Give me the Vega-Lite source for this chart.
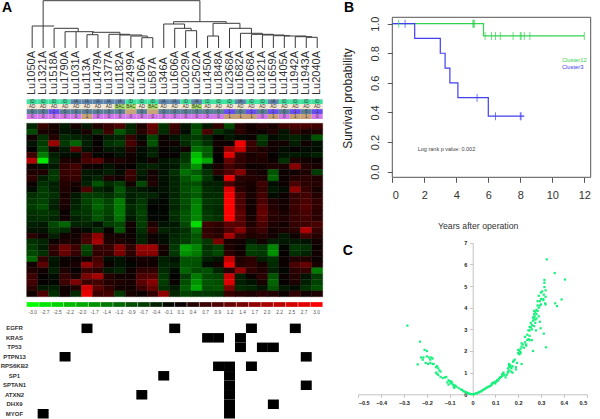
{"$schema":"https://vega.github.io/schema/vega-lite/v6.json","padding":0,"width":600,"height":419,"autosize":{"type":"none"},
"config":{"view":{"stroke":null},"font":"Liberation Sans"},
"resolve":{"scale":{"x":"independent","y":"independent","color":"independent","stroke":"independent"},"axis":{"x":"independent","y":"independent"}},
"datasets":{
"heat":[
{"c":1,"r":1,"v":-0.6},{"c":2,"r":1,"v":0.9},{"c":3,"r":1,"v":0.4},{"c":4,"r":1,"v":-0.4},{"c":5,"r":1,"v":0.4},{"c":6,"r":1,"v":-0.4},{"c":7,"r":1,"v":0.5},{"c":8,"r":1,"v":0.9},{"c":9,"r":1,"v":1.2},{"c":10,"r":1,"v":-0.6},{"c":11,"r":1,"v":0.5},{"c":12,"r":1,"v":1.6},{"c":13,"r":1,"v":-0.8},{"c":14,"r":1,"v":1},{"c":15,"r":1,"v":-0.3},{"c":16,"r":1,"v":-1.2},{"c":17,"r":1,"v":-0.4},{"c":18,"r":1,"v":0.8},{"c":19,"r":1,"v":-1.2},{"c":20,"r":1,"v":0.6},{"c":21,"r":1,"v":0.3},{"c":22,"r":1,"v":0.6},{"c":23,"r":1,"v":0.4},{"c":24,"r":1,"v":1},{"c":25,"r":1,"v":1.2},{"c":26,"r":1,"v":1.2},{"c":27,"r":1,"v":1},
{"c":1,"r":2,"v":-1.2},{"c":2,"r":2,"v":0.4},{"c":3,"r":2,"v":0.3},{"c":4,"r":2,"v":-0.3},{"c":5,"r":2,"v":-0.2},{"c":6,"r":2,"v":0.4},{"c":7,"r":2,"v":-0.8},{"c":8,"r":2,"v":1},{"c":9,"r":2,"v":-1.4},{"c":10,"r":2,"v":-0.7},{"c":11,"r":2,"v":0.6},{"c":12,"r":2,"v":1.4},{"c":13,"r":2,"v":-0.7},{"c":14,"r":2,"v":0.8},{"c":15,"r":2,"v":-0.2},{"c":16,"r":2,"v":-1.4},{"c":17,"r":2,"v":1.2},{"c":18,"r":2,"v":-0.8},{"c":19,"r":2,"v":-0.4},{"c":20,"r":2,"v":0.7},{"c":21,"r":2,"v":0.3},{"c":22,"r":2,"v":0.2},{"c":23,"r":2,"v":0.5},{"c":24,"r":2,"v":-0.3},{"c":25,"r":2,"v":0.7},{"c":26,"r":2,"v":0.4},{"c":27,"r":2,"v":0.5},
{"c":1,"r":3,"v":0.3},{"c":2,"r":3,"v":-0.8},{"c":3,"r":3,"v":0.6},{"c":4,"r":3,"v":-0.7},{"c":5,"r":3,"v":-0.6},{"c":6,"r":3,"v":-0.4},{"c":7,"r":3,"v":0.1},{"c":8,"r":3,"v":-0.5},{"c":9,"r":3,"v":-0.6},{"c":10,"r":3,"v":0.9},{"c":11,"r":3,"v":-0.2},{"c":12,"r":3,"v":-1.2},{"c":13,"r":3,"v":0.2},{"c":14,"r":3,"v":-0.3},{"c":15,"r":3,"v":-0.8},{"c":16,"r":3,"v":-1},{"c":17,"r":3,"v":-0.6},{"c":18,"r":3,"v":0.1},{"c":19,"r":3,"v":-0.4},{"c":20,"r":3,"v":-0.2},{"c":21,"r":3,"v":0.2},{"c":22,"r":3,"v":-1},{"c":23,"r":3,"v":-0.2},{"c":24,"r":3,"v":-0.4},{"c":25,"r":3,"v":-0.6},{"c":26,"r":3,"v":-0.3},{"c":27,"r":3,"v":-1.4},
{"c":1,"r":4,"v":-0.3},{"c":2,"r":4,"v":-1},{"c":3,"r":4,"v":2.1},{"c":4,"r":4,"v":-0.9},{"c":5,"r":4,"v":-1.6},{"c":6,"r":4,"v":-0.5},{"c":7,"r":4,"v":0.1},{"c":8,"r":4,"v":-0.8},{"c":9,"r":4,"v":-1},{"c":10,"r":4,"v":1.2},{"c":11,"r":4,"v":0.3},{"c":12,"r":4,"v":-1.4},{"c":13,"r":4,"v":0.2},{"c":14,"r":4,"v":0.3},{"c":15,"r":4,"v":-0.7},{"c":16,"r":4,"v":-1.4},{"c":17,"r":4,"v":-0.8},{"c":18,"r":4,"v":0.3},{"c":19,"r":4,"v":0.2},{"c":20,"r":4,"v":2.9},{"c":21,"r":4,"v":1},{"c":22,"r":4,"v":-0.8},{"c":23,"r":4,"v":0.3},{"c":24,"r":4,"v":0.3},{"c":25,"r":4,"v":-0.5},{"c":26,"r":4,"v":0.3},{"c":27,"r":4,"v":-0.3},
{"c":1,"r":5,"v":0},{"c":2,"r":5,"v":-1.2},{"c":3,"r":5,"v":0.3},{"c":4,"r":5,"v":-0.4},{"c":5,"r":5,"v":1.5},{"c":6,"r":5,"v":-0.3},{"c":7,"r":5,"v":0.2},{"c":8,"r":5,"v":-0.4},{"c":9,"r":5,"v":-0.4},{"c":10,"r":5,"v":0.6},{"c":11,"r":5,"v":-0.2},{"c":12,"r":5,"v":-0.5},{"c":13,"r":5,"v":0.1},{"c":14,"r":5,"v":-0.2},{"c":15,"r":5,"v":0.3},{"c":16,"r":5,"v":-1.7},{"c":17,"r":5,"v":-1.5},{"c":18,"r":5,"v":0.2},{"c":19,"r":5,"v":2},{"c":20,"r":5,"v":2.5},{"c":21,"r":5,"v":0.8},{"c":22,"r":5,"v":0.5},{"c":23,"r":5,"v":0.3},{"c":24,"r":5,"v":-0.2},{"c":25,"r":5,"v":0.1},{"c":26,"r":5,"v":-0.2},{"c":27,"r":5,"v":-0.2},
{"c":1,"r":6,"v":1},{"c":2,"r":6,"v":-1.8},{"c":3,"r":6,"v":-0.5},{"c":4,"r":6,"v":-0.2},{"c":5,"r":6,"v":-0.2},{"c":6,"r":6,"v":0.9},{"c":7,"r":6,"v":-0.1},{"c":8,"r":6,"v":0.1},{"c":9,"r":6,"v":-0.3},{"c":10,"r":6,"v":0.3},{"c":11,"r":6,"v":-0.2},{"c":12,"r":6,"v":-0.6},{"c":13,"r":6,"v":0.1},{"c":14,"r":6,"v":0.1},{"c":15,"r":6,"v":-0.8},{"c":16,"r":6,"v":-2.4},{"c":17,"r":6,"v":-1.5},{"c":18,"r":6,"v":0.1},{"c":19,"r":6,"v":2.7},{"c":20,"r":6,"v":0.9},{"c":21,"r":6,"v":0.4},{"c":22,"r":6,"v":0.6},{"c":23,"r":6,"v":0.1},{"c":24,"r":6,"v":-0.3},{"c":25,"r":6,"v":-0.4},{"c":26,"r":6,"v":-0.3},{"c":27,"r":6,"v":-0.5},
{"c":1,"r":7,"v":2.3},{"c":2,"r":7,"v":-2.8},{"c":3,"r":7,"v":-0.7},{"c":4,"r":7,"v":0.5},{"c":5,"r":7,"v":0.4},{"c":6,"r":7,"v":1.2},{"c":7,"r":7,"v":1.5},{"c":8,"r":7,"v":0.4},{"c":9,"r":7,"v":0.5},{"c":10,"r":7,"v":0.3},{"c":11,"r":7,"v":-0.2},{"c":12,"r":7,"v":0.3},{"c":13,"r":7,"v":-0.3},{"c":14,"r":7,"v":-0.5},{"c":15,"r":7,"v":-0.9},{"c":16,"r":7,"v":-2.6},{"c":17,"r":7,"v":-2.2},{"c":18,"r":7,"v":0.1},{"c":19,"r":7,"v":1.6},{"c":20,"r":7,"v":0.8},{"c":21,"r":7,"v":0.5},{"c":22,"r":7,"v":0.5},{"c":23,"r":7,"v":0.2},{"c":24,"r":7,"v":-0.8},{"c":25,"r":7,"v":0.5},{"c":26,"r":7,"v":0.3},{"c":27,"r":7,"v":0.2},
{"c":1,"r":8,"v":0.3},{"c":2,"r":8,"v":-0.3},{"c":3,"r":8,"v":-0.4},{"c":4,"r":8,"v":0.8},{"c":5,"r":8,"v":1.1},{"c":6,"r":8,"v":0.3},{"c":7,"r":8,"v":0.2},{"c":8,"r":8,"v":-0.3},{"c":9,"r":8,"v":0.2},{"c":10,"r":8,"v":0.1},{"c":11,"r":8,"v":-0.5},{"c":12,"r":8,"v":-0.6},{"c":13,"r":8,"v":-0.3},{"c":14,"r":8,"v":-0.4},{"c":15,"r":8,"v":-1.3},{"c":16,"r":8,"v":-2},{"c":17,"r":8,"v":-0.4},{"c":18,"r":8,"v":0.4},{"c":19,"r":8,"v":1.1},{"c":20,"r":8,"v":0.7},{"c":21,"r":8,"v":0.2},{"c":22,"r":8,"v":0.3},{"c":23,"r":8,"v":0.5},{"c":24,"r":8,"v":0.4},{"c":25,"r":8,"v":1.9},{"c":26,"r":8,"v":0.6},{"c":27,"r":8,"v":0.4},
{"c":1,"r":9,"v":0.5},{"c":2,"r":9,"v":0.5},{"c":3,"r":9,"v":-0.9},{"c":4,"r":9,"v":0.9},{"c":5,"r":9,"v":1},{"c":6,"r":9,"v":-0.4},{"c":7,"r":9,"v":-0.3},{"c":8,"r":9,"v":-0.5},{"c":9,"r":9,"v":-0.2},{"c":10,"r":9,"v":1},{"c":11,"r":9,"v":-0.5},{"c":12,"r":9,"v":0.3},{"c":13,"r":9,"v":-0.3},{"c":14,"r":9,"v":-0.8},{"c":15,"r":9,"v":-1.7},{"c":16,"r":9,"v":-1.5},{"c":17,"r":9,"v":-0.8},{"c":18,"r":9,"v":0.7},{"c":19,"r":9,"v":1.3},{"c":20,"r":9,"v":1.9},{"c":21,"r":9,"v":0.5},{"c":22,"r":9,"v":0.3},{"c":23,"r":9,"v":-1.4},{"c":24,"r":9,"v":0.2},{"c":25,"r":9,"v":0.3},{"c":26,"r":9,"v":0.5},{"c":27,"r":9,"v":-1},
{"c":1,"r":10,"v":0.8},{"c":2,"r":10,"v":-0.5},{"c":3,"r":10,"v":-1},{"c":4,"r":10,"v":0.8},{"c":5,"r":10,"v":0.9},{"c":6,"r":10,"v":-0.4},{"c":7,"r":10,"v":-0.6},{"c":8,"r":10,"v":0.5},{"c":9,"r":10,"v":0.3},{"c":10,"r":10,"v":0.9},{"c":11,"r":10,"v":-0.3},{"c":12,"r":10,"v":0.4},{"c":13,"r":10,"v":-0.3},{"c":14,"r":10,"v":-0.6},{"c":15,"r":10,"v":-1.4},{"c":16,"r":10,"v":-1.8},{"c":17,"r":10,"v":-0.9},{"c":18,"r":10,"v":-0.2},{"c":19,"r":10,"v":2.8},{"c":20,"r":10,"v":0.7},{"c":21,"r":10,"v":0.6},{"c":22,"r":10,"v":0.5},{"c":23,"r":10,"v":-1.6},{"c":24,"r":10,"v":0.2},{"c":25,"r":10,"v":0.6},{"c":26,"r":10,"v":0.7},{"c":27,"r":10,"v":0.5},
{"c":1,"r":11,"v":0.2},{"c":2,"r":11,"v":-0.8},{"c":3,"r":11,"v":-0.5},{"c":4,"r":11,"v":0.6},{"c":5,"r":11,"v":0.4},{"c":6,"r":11,"v":-0.5},{"c":7,"r":11,"v":-1.4},{"c":8,"r":11,"v":-0.7},{"c":9,"r":11,"v":-1},{"c":10,"r":11,"v":0.3},{"c":11,"r":11,"v":-1.2},{"c":12,"r":11,"v":0.5},{"c":13,"r":11,"v":-0.2},{"c":14,"r":11,"v":-0.6},{"c":15,"r":11,"v":-1.2},{"c":16,"r":11,"v":-1.3},{"c":17,"r":11,"v":-0.5},{"c":18,"r":11,"v":-0.5},{"c":19,"r":11,"v":1.2},{"c":20,"r":11,"v":0.5},{"c":21,"r":11,"v":0.4},{"c":22,"r":11,"v":1},{"c":23,"r":11,"v":-0.2},{"c":24,"r":11,"v":0.2},{"c":25,"r":11,"v":1.2},{"c":26,"r":11,"v":0.7},{"c":27,"r":11,"v":0.6},
{"c":1,"r":12,"v":-0.2},{"c":2,"r":12,"v":-1},{"c":3,"r":12,"v":-0.6},{"c":4,"r":12,"v":0.5},{"c":5,"r":12,"v":0.2},{"c":6,"r":12,"v":1.3},{"c":7,"r":12,"v":-0.6},{"c":8,"r":12,"v":-0.4},{"c":9,"r":12,"v":-1.4},{"c":10,"r":12,"v":-0.5},{"c":11,"r":12,"v":-0.4},{"c":12,"r":12,"v":-0.2},{"c":13,"r":12,"v":-0.3},{"c":14,"r":12,"v":-0.6},{"c":15,"r":12,"v":-1.3},{"c":16,"r":12,"v":-1.6},{"c":17,"r":12,"v":-0.7},{"c":18,"r":12,"v":-0.6},{"c":19,"r":12,"v":2.7},{"c":20,"r":12,"v":0.7},{"c":21,"r":12,"v":0.3},{"c":22,"r":12,"v":0.9},{"c":23,"r":12,"v":-0.4},{"c":24,"r":12,"v":-0.2},{"c":25,"r":12,"v":2},{"c":26,"r":12,"v":0.9},{"c":27,"r":12,"v":0.4},
{"c":1,"r":13,"v":-0.8},{"c":2,"r":13,"v":-1},{"c":3,"r":13,"v":-0.8},{"c":4,"r":13,"v":0.4},{"c":5,"r":13,"v":-0.4},{"c":6,"r":13,"v":-1},{"c":7,"r":13,"v":-1},{"c":8,"r":13,"v":-0.8},{"c":9,"r":13,"v":-1.2},{"c":10,"r":13,"v":-0.5},{"c":11,"r":13,"v":-0.7},{"c":12,"r":13,"v":-0.6},{"c":13,"r":13,"v":-0.2},{"c":14,"r":13,"v":-0.6},{"c":15,"r":13,"v":-1.2},{"c":16,"r":13,"v":-1.5},{"c":17,"r":13,"v":-0.7},{"c":18,"r":13,"v":-0.7},{"c":19,"r":13,"v":2.9},{"c":20,"r":13,"v":1.2},{"c":21,"r":13,"v":0.4},{"c":22,"r":13,"v":1.1},{"c":23,"r":13,"v":-0.2},{"c":24,"r":13,"v":0.2},{"c":25,"r":13,"v":0.9},{"c":26,"r":13,"v":1.1},{"c":27,"r":13,"v":0.6},
{"c":1,"r":14,"v":-0.9},{"c":2,"r":14,"v":-1.1},{"c":3,"r":14,"v":-0.6},{"c":4,"r":14,"v":0.5},{"c":5,"r":14,"v":-0.5},{"c":6,"r":14,"v":-1.1},{"c":7,"r":14,"v":-1.5},{"c":8,"r":14,"v":-1.1},{"c":9,"r":14,"v":-1.8},{"c":10,"r":14,"v":-0.5},{"c":11,"r":14,"v":-0.9},{"c":12,"r":14,"v":-0.2},{"c":13,"r":14,"v":-0.1},{"c":14,"r":14,"v":-0.7},{"c":15,"r":14,"v":-1.3},{"c":16,"r":14,"v":-1.8},{"c":17,"r":14,"v":-0.9},{"c":18,"r":14,"v":-0.8},{"c":19,"r":14,"v":3},{"c":20,"r":14,"v":1.2},{"c":21,"r":14,"v":0.3},{"c":22,"r":14,"v":1.2},{"c":23,"r":14,"v":0.5},{"c":24,"r":14,"v":0.3},{"c":25,"r":14,"v":0.9},{"c":26,"r":14,"v":1.2},{"c":27,"r":14,"v":0.8},
{"c":1,"r":15,"v":-1},{"c":2,"r":15,"v":-1.3},{"c":3,"r":15,"v":-0.5},{"c":4,"r":15,"v":0.4},{"c":5,"r":15,"v":-0.6},{"c":6,"r":15,"v":-1},{"c":7,"r":15,"v":-1.6},{"c":8,"r":15,"v":-1.2},{"c":9,"r":15,"v":-1.8},{"c":10,"r":15,"v":-0.7},{"c":11,"r":15,"v":-1},{"c":12,"r":15,"v":0},{"c":13,"r":15,"v":-0.1},{"c":14,"r":15,"v":-0.6},{"c":15,"r":15,"v":-1.2},{"c":16,"r":15,"v":-1.9},{"c":17,"r":15,"v":-0.8},{"c":18,"r":15,"v":-0.7},{"c":19,"r":15,"v":3},{"c":20,"r":15,"v":1.3},{"c":21,"r":15,"v":0.3},{"c":22,"r":15,"v":1.5},{"c":23,"r":15,"v":0.6},{"c":24,"r":15,"v":0.3},{"c":25,"r":15,"v":1},{"c":26,"r":15,"v":1.4},{"c":27,"r":15,"v":0.8},
{"c":1,"r":16,"v":-0.8},{"c":2,"r":16,"v":-0.9},{"c":3,"r":16,"v":-0.8},{"c":4,"r":16,"v":0.2},{"c":5,"r":16,"v":-0.8},{"c":6,"r":16,"v":-0.9},{"c":7,"r":16,"v":-1.4},{"c":8,"r":16,"v":-1.1},{"c":9,"r":16,"v":-1.8},{"c":10,"r":16,"v":-0.6},{"c":11,"r":16,"v":-1.1},{"c":12,"r":16,"v":-0.1},{"c":13,"r":16,"v":-0.1},{"c":14,"r":16,"v":-0.8},{"c":15,"r":16,"v":-1.4},{"c":16,"r":16,"v":-1.9},{"c":17,"r":16,"v":-0.9},{"c":18,"r":16,"v":-0.7},{"c":19,"r":16,"v":3},{"c":20,"r":16,"v":1.5},{"c":21,"r":16,"v":0.3},{"c":22,"r":16,"v":1.6},{"c":23,"r":16,"v":0.7},{"c":24,"r":16,"v":0.4},{"c":25,"r":16,"v":0.9},{"c":26,"r":16,"v":1.2},{"c":27,"r":16,"v":0.7},
{"c":1,"r":17,"v":-0.7},{"c":2,"r":17,"v":-0.8},{"c":3,"r":17,"v":-0.6},{"c":4,"r":17,"v":0.3},{"c":5,"r":17,"v":-0.5},{"c":6,"r":17,"v":-0.8},{"c":7,"r":17,"v":-1.4},{"c":8,"r":17,"v":-0.9},{"c":9,"r":17,"v":-1.7},{"c":10,"r":17,"v":-0.4},{"c":11,"r":17,"v":-1},{"c":12,"r":17,"v":-0.1},{"c":13,"r":17,"v":-0.1},{"c":14,"r":17,"v":-0.7},{"c":15,"r":17,"v":-1.4},{"c":16,"r":17,"v":-1.9},{"c":17,"r":17,"v":-1},{"c":18,"r":17,"v":-0.8},{"c":19,"r":17,"v":3},{"c":20,"r":17,"v":1.4},{"c":21,"r":17,"v":0.4},{"c":22,"r":17,"v":1.5},{"c":23,"r":17,"v":0.6},{"c":24,"r":17,"v":0.5},{"c":25,"r":17,"v":0.9},{"c":26,"r":17,"v":1.1},{"c":27,"r":17,"v":0.7},
{"c":1,"r":18,"v":-0.5},{"c":2,"r":18,"v":-0.4},{"c":3,"r":18,"v":-1.2},{"c":4,"r":18,"v":-1.6},{"c":5,"r":18,"v":-0.6},{"c":6,"r":18,"v":-0.6},{"c":7,"r":18,"v":-0.3},{"c":8,"r":18,"v":-1},{"c":9,"r":18,"v":-1.2},{"c":10,"r":18,"v":0.3},{"c":11,"r":18,"v":-1},{"c":12,"r":18,"v":0.5},{"c":13,"r":18,"v":-0.3},{"c":14,"r":18,"v":-0.4},{"c":15,"r":18,"v":-1.2},{"c":16,"r":18,"v":-2.7},{"c":17,"r":18,"v":1},{"c":18,"r":18,"v":0.8},{"c":19,"r":18,"v":1.5},{"c":20,"r":18,"v":1.4},{"c":21,"r":18,"v":0.5},{"c":22,"r":18,"v":1.2},{"c":23,"r":18,"v":0.5},{"c":24,"r":18,"v":0.3},{"c":25,"r":18,"v":0.9},{"c":26,"r":18,"v":1},{"c":27,"r":18,"v":1.2},
{"c":1,"r":19,"v":-0.3},{"c":2,"r":19,"v":-0.3},{"c":3,"r":19,"v":-0.9},{"c":4,"r":19,"v":-0.7},{"c":5,"r":19,"v":0.2},{"c":6,"r":19,"v":-0.2},{"c":7,"r":19,"v":-0.7},{"c":8,"r":19,"v":0.1},{"c":9,"r":19,"v":-1.4},{"c":10,"r":19,"v":0.2},{"c":11,"r":19,"v":-0.8},{"c":12,"r":19,"v":0.9},{"c":13,"r":19,"v":-0.6},{"c":14,"r":19,"v":-0.5},{"c":15,"r":19,"v":-0.8},{"c":16,"r":19,"v":-1.7},{"c":17,"r":19,"v":0.8},{"c":18,"r":19,"v":0.6},{"c":19,"r":19,"v":1.3},{"c":20,"r":19,"v":1.9},{"c":21,"r":19,"v":0.7},{"c":22,"r":19,"v":1},{"c":23,"r":19,"v":0.3},{"c":24,"r":19,"v":0.5},{"c":25,"r":19,"v":0.7},{"c":26,"r":19,"v":2.3},{"c":27,"r":19,"v":0.9},
{"c":1,"r":20,"v":0.7},{"c":2,"r":20,"v":0.2},{"c":3,"r":20,"v":-0.5},{"c":4,"r":20,"v":0.3},{"c":5,"r":20,"v":0.3},{"c":6,"r":20,"v":1},{"c":7,"r":20,"v":2},{"c":8,"r":20,"v":0.4},{"c":9,"r":20,"v":0.3},{"c":10,"r":20,"v":0.2},{"c":11,"r":20,"v":-0.5},{"c":12,"r":20,"v":0.2},{"c":13,"r":20,"v":-0.2},{"c":14,"r":20,"v":-0.6},{"c":15,"r":20,"v":-0.9},{"c":16,"r":20,"v":-1.4},{"c":17,"r":20,"v":0.9},{"c":18,"r":20,"v":0.7},{"c":19,"r":20,"v":2.2},{"c":20,"r":20,"v":0.9},{"c":21,"r":20,"v":0.5},{"c":22,"r":20,"v":0.6},{"c":23,"r":20,"v":0.3},{"c":24,"r":20,"v":-0.4},{"c":25,"r":20,"v":0.2},{"c":26,"r":20,"v":1.1},{"c":27,"r":20,"v":0.6},
{"c":1,"r":21,"v":-0.8},{"c":2,"r":21,"v":-0.6},{"c":3,"r":21,"v":0.2},{"c":4,"r":21,"v":0.5},{"c":5,"r":21,"v":0.4},{"c":6,"r":21,"v":1.2},{"c":7,"r":21,"v":2.2},{"c":8,"r":21,"v":0.5},{"c":9,"r":21,"v":0.5},{"c":10,"r":21,"v":0.3},{"c":11,"r":21,"v":-0.6},{"c":12,"r":21,"v":0.3},{"c":13,"r":21,"v":-0.2},{"c":14,"r":21,"v":-0.7},{"c":15,"r":21,"v":-1},{"c":16,"r":21,"v":-1.5},{"c":17,"r":21,"v":-0.9},{"c":18,"r":21,"v":1.8},{"c":19,"r":21,"v":0.4},{"c":20,"r":21,"v":0.3},{"c":21,"r":21,"v":-0.4},{"c":22,"r":21,"v":0.3},{"c":23,"r":21,"v":-0.5},{"c":24,"r":21,"v":-0.4},{"c":25,"r":21,"v":-0.4},{"c":26,"r":21,"v":-0.3},{"c":27,"r":21,"v":0.3},
{"c":1,"r":22,"v":-1},{"c":2,"r":22,"v":-0.5},{"c":3,"r":22,"v":0.8},{"c":4,"r":22,"v":1.7},{"c":5,"r":22,"v":1},{"c":6,"r":22,"v":-1.2},{"c":7,"r":22,"v":0.9},{"c":8,"r":22,"v":0.9},{"c":9,"r":22,"v":1.9},{"c":10,"r":22,"v":0.8},{"c":11,"r":22,"v":2.1},{"c":12,"r":22,"v":2.1},{"c":13,"r":22,"v":0.4},{"c":14,"r":22,"v":-0.9},{"c":15,"r":22,"v":-2.2},{"c":16,"r":22,"v":-1.9},{"c":17,"r":22,"v":-0.8},{"c":18,"r":22,"v":-1.1},{"c":19,"r":22,"v":0.5},{"c":20,"r":22,"v":0.2},{"c":21,"r":22,"v":-1.1},{"c":22,"r":22,"v":-0.9},{"c":23,"r":22,"v":-1.9},{"c":24,"r":22,"v":-0.1},{"c":25,"r":22,"v":-0.9},{"c":26,"r":22,"v":-0.8},{"c":27,"r":22,"v":0.2},
{"c":1,"r":23,"v":-1.2},{"c":2,"r":23,"v":-0.8},{"c":3,"r":23,"v":0.7},{"c":4,"r":23,"v":1.6},{"c":5,"r":23,"v":0.9},{"c":6,"r":23,"v":-1},{"c":7,"r":23,"v":0.8},{"c":8,"r":23,"v":0.8},{"c":9,"r":23,"v":1.8},{"c":10,"r":23,"v":0.7},{"c":11,"r":23,"v":1.9},{"c":12,"r":23,"v":1.9},{"c":13,"r":23,"v":0.3},{"c":14,"r":23,"v":-0.9},{"c":15,"r":23,"v":-2},{"c":16,"r":23,"v":-1.8},{"c":17,"r":23,"v":-0.9},{"c":18,"r":23,"v":-1.2},{"c":19,"r":23,"v":0.7},{"c":20,"r":23,"v":0.3},{"c":21,"r":23,"v":-1},{"c":22,"r":23,"v":-0.9},{"c":23,"r":23,"v":-2},{"c":24,"r":23,"v":0.1},{"c":25,"r":23,"v":-0.8},{"c":26,"r":23,"v":-0.6},{"c":27,"r":23,"v":0.3},
{"c":1,"r":24,"v":-1.6},{"c":2,"r":24,"v":0.8},{"c":3,"r":24,"v":-0.4},{"c":4,"r":24,"v":0.2},{"c":5,"r":24,"v":0.2},{"c":6,"r":24,"v":0.3},{"c":7,"r":24,"v":1.1},{"c":8,"r":24,"v":-0.2},{"c":9,"r":24,"v":-0.3},{"c":10,"r":24,"v":0.2},{"c":11,"r":24,"v":0.4},{"c":12,"r":24,"v":0.3},{"c":13,"r":24,"v":-0.5},{"c":14,"r":24,"v":-0.3},{"c":15,"r":24,"v":-1.4},{"c":16,"r":24,"v":-1.4},{"c":17,"r":24,"v":-0.5},{"c":18,"r":24,"v":-0.3},{"c":19,"r":24,"v":2.4},{"c":20,"r":24,"v":0.5},{"c":21,"r":24,"v":0.7},{"c":22,"r":24,"v":-0.5},{"c":23,"r":24,"v":-0.8},{"c":24,"r":24,"v":0.2},{"c":25,"r":24,"v":0.5},{"c":26,"r":24,"v":0.5},{"c":27,"r":24,"v":0.2},
{"c":1,"r":25,"v":0.3},{"c":2,"r":25,"v":1.5},{"c":3,"r":25,"v":-0.3},{"c":4,"r":25,"v":0.2},{"c":5,"r":25,"v":0.4},{"c":6,"r":25,"v":2},{"c":7,"r":25,"v":1.4},{"c":8,"r":25,"v":0.2},{"c":9,"r":25,"v":-0.3},{"c":10,"r":25,"v":-0.1},{"c":11,"r":25,"v":0.3},{"c":12,"r":25,"v":0.3},{"c":13,"r":25,"v":-0.6},{"c":14,"r":25,"v":-0.5},{"c":15,"r":25,"v":-1.4},{"c":16,"r":25,"v":-1.3},{"c":17,"r":25,"v":-0.2},{"c":18,"r":25,"v":0.3},{"c":19,"r":25,"v":2.8},{"c":20,"r":25,"v":0.6},{"c":21,"r":25,"v":0.8},{"c":22,"r":25,"v":0.4},{"c":23,"r":25,"v":-0.7},{"c":24,"r":25,"v":0.2},{"c":25,"r":25,"v":1.2},{"c":26,"r":25,"v":1.6},{"c":27,"r":25,"v":0.4},
{"c":1,"r":26,"v":0.5},{"c":2,"r":26,"v":0.3},{"c":3,"r":26,"v":-0.5},{"c":4,"r":26,"v":0.5},{"c":5,"r":26,"v":0.1},{"c":6,"r":26,"v":0.9},{"c":7,"r":26,"v":0.7},{"c":8,"r":26,"v":-0.4},{"c":9,"r":26,"v":-0.6},{"c":10,"r":26,"v":0.2},{"c":11,"r":26,"v":0.8},{"c":12,"r":26,"v":0.8},{"c":13,"r":26,"v":-0.7},{"c":14,"r":26,"v":-0.2},{"c":15,"r":26,"v":-1.6},{"c":16,"r":26,"v":-1.2},{"c":17,"r":26,"v":-1.3},{"c":18,"r":26,"v":-0.6},{"c":19,"r":26,"v":0.6},{"c":20,"r":26,"v":2},{"c":21,"r":26,"v":0.8},{"c":22,"r":26,"v":0.5},{"c":23,"r":26,"v":-0.5},{"c":24,"r":26,"v":-0.1},{"c":25,"r":26,"v":0.7},{"c":26,"r":26,"v":0.9},{"c":27,"r":26,"v":-1.8},
{"c":1,"r":27,"v":1},{"c":2,"r":27,"v":0.1},{"c":3,"r":27,"v":-0.2},{"c":4,"r":27,"v":0.9},{"c":5,"r":27,"v":0.4},{"c":6,"r":27,"v":1.8},{"c":7,"r":27,"v":2.2},{"c":8,"r":27,"v":0.6},{"c":9,"r":27,"v":0.3},{"c":10,"r":27,"v":0.3},{"c":11,"r":27,"v":1.3},{"c":12,"r":27,"v":1.4},{"c":13,"r":27,"v":-0.9},{"c":14,"r":27,"v":0},{"c":15,"r":27,"v":-1},{"c":16,"r":27,"v":-1.8},{"c":17,"r":27,"v":-1.2},{"c":18,"r":27,"v":-1.1},{"c":19,"r":27,"v":2.5},{"c":20,"r":27,"v":-0.5},{"c":21,"r":27,"v":0.2},{"c":22,"r":27,"v":0.7},{"c":23,"r":27,"v":-1.4},{"c":24,"r":27,"v":0.2},{"c":25,"r":27,"v":0.6},{"c":26,"r":27,"v":-0.3},{"c":27,"r":27,"v":-1},
{"c":1,"r":28,"v":1.1},{"c":2,"r":28,"v":0.1},{"c":3,"r":28,"v":-0.1},{"c":4,"r":28,"v":1},{"c":5,"r":28,"v":1.8},{"c":6,"r":28,"v":1},{"c":7,"r":28,"v":1.1},{"c":8,"r":28,"v":0.6},{"c":9,"r":28,"v":0.5},{"c":10,"r":28,"v":0.4},{"c":11,"r":28,"v":1.5},{"c":12,"r":28,"v":1.9},{"c":13,"r":28,"v":-1},{"c":14,"r":28,"v":0.2},{"c":15,"r":28,"v":-1.3},{"c":16,"r":28,"v":-2},{"c":17,"r":28,"v":-1.4},{"c":18,"r":28,"v":-1.3},{"c":19,"r":28,"v":2.7},{"c":20,"r":28,"v":-0.5},{"c":21,"r":28,"v":-0.3},{"c":22,"r":28,"v":0.4},{"c":23,"r":28,"v":-1.6},{"c":24,"r":28,"v":0.1},{"c":25,"r":28,"v":0.5},{"c":26,"r":28,"v":-0.5},{"c":27,"r":28,"v":-1.1},
{"c":1,"r":29,"v":0.7},{"c":2,"r":29,"v":-0.4},{"c":3,"r":29,"v":-0.5},{"c":4,"r":29,"v":0.3},{"c":5,"r":29,"v":0.5},{"c":6,"r":29,"v":2.6},{"c":7,"r":29,"v":1.5},{"c":8,"r":29,"v":0.8},{"c":9,"r":29,"v":0.3},{"c":10,"r":29,"v":0.3},{"c":11,"r":29,"v":1},{"c":12,"r":29,"v":1.6},{"c":13,"r":29,"v":-0.8},{"c":14,"r":29,"v":-0.4},{"c":15,"r":29,"v":-1.5},{"c":16,"r":29,"v":-2.2},{"c":17,"r":29,"v":-1.3},{"c":18,"r":29,"v":-1.4},{"c":19,"r":29,"v":1.8},{"c":20,"r":29,"v":-0.7},{"c":21,"r":29,"v":-0.6},{"c":22,"r":29,"v":-0.3},{"c":23,"r":29,"v":-1.4},{"c":24,"r":29,"v":-0.4},{"c":25,"r":29,"v":-0.2},{"c":26,"r":29,"v":-0.8},{"c":27,"r":29,"v":-1.3},
{"c":1,"r":30,"v":0.3},{"c":2,"r":30,"v":1.3},{"c":3,"r":30,"v":-0.8},{"c":4,"r":30,"v":0.3},{"c":5,"r":30,"v":-0.7},{"c":6,"r":30,"v":2.8},{"c":7,"r":30,"v":1},{"c":8,"r":30,"v":1.1},{"c":9,"r":30,"v":-0.9},{"c":10,"r":30,"v":0.4},{"c":11,"r":30,"v":0.2},{"c":12,"r":30,"v":0.8},{"c":13,"r":30,"v":2},{"c":14,"r":30,"v":-0.6},{"c":15,"r":30,"v":-1.1},{"c":16,"r":30,"v":-0.9},{"c":17,"r":30,"v":-0.9},{"c":18,"r":30,"v":-0.8},{"c":19,"r":30,"v":0.9},{"c":20,"r":30,"v":0.6},{"c":21,"r":30,"v":0.5},{"c":22,"r":30,"v":0.7},{"c":23,"r":30,"v":0.6},{"c":24,"r":30,"v":0.2},{"c":25,"r":30,"v":0.8},{"c":26,"r":30,"v":0.3},{"c":27,"r":30,"v":0.5}
],
"tracks":[
{"c":1,"t":"T1","k":"T1:ID","l":"ID"},{"c":2,"t":"T1","k":"T1:ID","l":"ID"},{"c":3,"t":"T1","k":"T1:ID","l":"ID"},{"c":4,"t":"T1","k":"T1:ID","l":"ID"},{"c":5,"t":"T1","k":"T1:IA","l":"IA"},{"c":6,"t":"T1","k":"T1:IA","l":"IA"},{"c":7,"t":"T1","k":"T1:IA","l":"IA"},{"c":8,"t":"T1","k":"T1:IA","l":"IA"},{"c":9,"t":"T1","k":"T1:IA","l":"IA"},{"c":10,"t":"T1","k":"T1:ID","l":"ID"},{"c":11,"t":"T1","k":"T1:ID","l":"ID"},{"c":12,"t":"T1","k":"T1:ID","l":"ID"},{"c":13,"t":"T1","k":"T1:IA","l":"IA"},{"c":14,"t":"T1","k":"T1:IA","l":"IA"},{"c":15,"t":"T1","k":"T1:ID","l":"ID"},{"c":16,"t":"T1","k":"T1:IA","l":"IA"},{"c":17,"t":"T1","k":"T1:ID","l":"ID"},{"c":18,"t":"T1","k":"T1:ID","l":"ID"},{"c":19,"t":"T1","k":"T1:ID","l":"ID"},{"c":20,"t":"T1","k":"T1:IA","l":"IA"},{"c":21,"t":"T1","k":"T1:ID","l":"ID"},{"c":22,"t":"T1","k":"T1:ID","l":"ID"},{"c":23,"t":"T1","k":"T1:IA","l":"IA"},{"c":24,"t":"T1","k":"T1:ID","l":"ID"},{"c":25,"t":"T1","k":"T1:ID","l":"ID"},{"c":26,"t":"T1","k":"T1:ID","l":"ID"},{"c":27,"t":"T1","k":"T1:ID","l":"ID"},
{"c":1,"t":"T2","k":"T2:AD","l":"AD"},{"c":2,"t":"T2","k":"T2:AD","l":"AD"},{"c":3,"t":"T2","k":"T2:AD","l":"AD"},{"c":4,"t":"T2","k":"T2:AD","l":"AD"},{"c":5,"t":"T2","k":"T2:AD","l":"AD"},{"c":6,"t":"T2","k":"T2:AD","l":"AD"},{"c":7,"t":"T2","k":"T2:AD","l":"AD"},{"c":8,"t":"T2","k":"T2:AD","l":"AD"},{"c":9,"t":"T2","k":"T2:BAC","l":"BAC"},{"c":10,"t":"T2","k":"T2:BAC","l":"BAC"},{"c":11,"t":"T2","k":"T2:AD","l":"AD"},{"c":12,"t":"T2","k":"T2:BAC","l":"BAC"},{"c":13,"t":"T2","k":"T2:AD","l":"AD"},{"c":14,"t":"T2","k":"T2:AD","l":"AD"},{"c":15,"t":"T2","k":"T2:AD","l":"AD"},{"c":16,"t":"T2","k":"T2:BAC","l":"BAC"},{"c":17,"t":"T2","k":"T2:AD","l":"AD"},{"c":18,"t":"T2","k":"T2:AD","l":"AD"},{"c":19,"t":"T2","k":"T2:AD","l":"AD"},{"c":20,"t":"T2","k":"T2:AD","l":"AD"},{"c":21,"t":"T2","k":"T2:AD","l":"AD"},{"c":22,"t":"T2","k":"T2:AD","l":"AD"},{"c":23,"t":"T2","k":"T2:AD","l":"AD"},{"c":24,"t":"T2","k":"T2:AD","l":"AD"},{"c":25,"t":"T2","k":"T2:AD","l":"AD"},{"c":26,"t":"T2","k":"T2:AD","l":"AD"},{"c":27,"t":"T2","k":"T2:AD","l":"AD"},
{"c":1,"t":"T3","k":"T3:0","l":"0"},{"c":2,"t":"T3","k":"T3:0","l":"0"},{"c":3,"t":"T3","k":"T3:1","l":"1"},{"c":4,"t":"T3","k":"T3:0","l":"0"},{"c":5,"t":"T3","k":"T3:0","l":"0"},{"c":6,"t":"T3","k":"T3:0","l":"0"},{"c":7,"t":"T3","k":"T3:0","l":"0"},{"c":8,"t":"T3","k":"T3:0","l":"0"},{"c":9,"t":"T3","k":"T3:0","l":"0"},{"c":10,"t":"T3","k":"T3:NA","l":""},{"c":11,"t":"T3","k":"T3:0","l":"0"},{"c":12,"t":"T3","k":"T3:NA","l":""},{"c":13,"t":"T3","k":"T3:0","l":"0"},{"c":14,"t":"T3","k":"T3:0","l":"0"},{"c":15,"t":"T3","k":"T3:0","l":"0"},{"c":16,"t":"T3","k":"T3:0","l":"0"},{"c":17,"t":"T3","k":"T3:0","l":"0"},{"c":18,"t":"T3","k":"T3:0","l":"0"},{"c":19,"t":"T3","k":"T3:1","l":"1"},{"c":20,"t":"T3","k":"T3:0","l":"0"},{"c":21,"t":"T3","k":"T3:1","l":"1"},{"c":22,"t":"T3","k":"T3:0","l":"0"},{"c":23,"t":"T3","k":"T3:1","l":"1"},{"c":24,"t":"T3","k":"T3:0","l":"0"},{"c":25,"t":"T3","k":"T3:1","l":"1"},{"c":26,"t":"T3","k":"T3:0","l":"0"},{"c":27,"t":"T3","k":"T3:1","l":"1"},
{"c":1,"t":"T4","k":"T4:0","l":"0"},{"c":2,"t":"T4","k":"T4:0","l":"0"},{"c":3,"t":"T4","k":"T4:0","l":"0"},{"c":4,"t":"T4","k":"T4:0","l":"0"},{"c":5,"t":"T4","k":"T4:0","l":"0"},{"c":6,"t":"T4","k":"T4:1","l":"1"},{"c":7,"t":"T4","k":"T4:0","l":"0"},{"c":8,"t":"T4","k":"T4:0","l":"0"},{"c":9,"t":"T4","k":"T4:0","l":"0"},{"c":10,"t":"T4","k":"T4:0","l":"0"},{"c":11,"t":"T4","k":"T4:0","l":"0"},{"c":12,"t":"T4","k":"T4:0","l":"0"},{"c":13,"t":"T4","k":"T4:0","l":"0"},{"c":14,"t":"T4","k":"T4:0","l":"0"},{"c":15,"t":"T4","k":"T4:0","l":"0"},{"c":16,"t":"T4","k":"T4:0","l":"0"},{"c":17,"t":"T4","k":"T4:0","l":"0"},{"c":18,"t":"T4","k":"T4:0","l":"0"},{"c":19,"t":"T4","k":"T4:1","l":"1"},{"c":20,"t":"T4","k":"T4:1","l":"1"},{"c":21,"t":"T4","k":"T4:1","l":"1"},{"c":22,"t":"T4","k":"T4:0","l":"0"},{"c":23,"t":"T4","k":"T4:1","l":"1"},{"c":24,"t":"T4","k":"T4:0","l":"0"},{"c":25,"t":"T4","k":"T4:1","l":"1"},{"c":26,"t":"T4","k":"T4:1","l":"1"},{"c":27,"t":"T4","k":"T4:0","l":"0"}
],
"tree":[
{"x":2,"x2":16.3,"y":47.3,"y2":47.3},{"x":2,"x2":2,"y":47.3,"y2":22},{"x":16.3,"x2":16.3,"y":47.3,"y2":26.3},
{"x":1,"x2":3,"y":22,"y2":22},{"x":1,"x2":1,"y":22,"y2":0},{"x":2,"x2":2,"y":22,"y2":0},
{"x":3,"x2":5.2,"y":19.7,"y2":19.7},{"x":3,"x2":3,"y":19.7,"y2":0},{"x":5.2,"x2":5.2,"y":19.7,"y2":16.3},
{"x":4,"x2":6.6,"y":16.3,"y2":16.3},{"x":4,"x2":4,"y":16.3,"y2":0},{"x":5,"x2":5,"y":16.3,"y2":0},{"x":6.6,"x2":6.6,"y":16.3,"y2":15.7},
{"x":6.5,"x2":9,"y":15.7,"y2":15.7},{"x":6.5,"x2":6.5,"y":15.7,"y2":13.3},{"x":6,"x2":7,"y":13.3,"y2":13.3},{"x":6,"x2":6,"y":13.3,"y2":0},{"x":7,"x2":7,"y":13.3,"y2":0},
{"x":9,"x2":9,"y":15.7,"y2":13.7},{"x":8,"x2":9.9,"y":13.7,"y2":13.7},{"x":8,"x2":8,"y":13.7,"y2":0},{"x":9.9,"x2":9.9,"y":13.7,"y2":13},
{"x":9,"x2":11,"y":13,"y2":13},{"x":9,"x2":9,"y":13,"y2":0},{"x":11,"x2":11,"y":13,"y2":12},{"x":10,"x2":11.5,"y":12,"y2":12},{"x":10,"x2":10,"y":12,"y2":0},{"x":11.5,"x2":11.5,"y":12,"y2":10.3},{"x":11,"x2":12,"y":10.3,"y2":10.3},{"x":11,"x2":11,"y":10.3,"y2":0},{"x":12,"x2":12,"y":10.3,"y2":0},
{"x":13.9,"x2":18.7,"y":26.3,"y2":26.3},{"x":13.9,"x2":13.9,"y":26.3,"y2":24},{"x":13,"x2":14.9,"y":24,"y2":24},{"x":13,"x2":13,"y":24,"y2":0},{"x":14.9,"x2":14.9,"y":24,"y2":19.7},{"x":14,"x2":15.5,"y":19.7,"y2":19.7},{"x":14,"x2":14,"y":19.7,"y2":0},{"x":15.5,"x2":15.5,"y":19.7,"y2":17.3},{"x":15,"x2":16,"y":17.3,"y2":17.3},{"x":15,"x2":15,"y":17.3,"y2":0},{"x":16,"x2":16,"y":17.3,"y2":0},
{"x":18.7,"x2":18.7,"y":26.3,"y2":24.7},{"x":17.5,"x2":19.95,"y":24.7,"y2":24.7},{"x":17.5,"x2":17.5,"y":24.7,"y2":12},{"x":17,"x2":18,"y":12,"y2":12},{"x":17,"x2":17,"y":12,"y2":0},{"x":18,"x2":18,"y":12,"y2":0},
{"x":19.95,"x2":19.95,"y":24.7,"y2":19.7},{"x":19,"x2":21,"y":19.7,"y2":19.7},{"x":19,"x2":19,"y":19.7,"y2":0},{"x":21,"x2":21,"y":19.7,"y2":14.7},{"x":20,"x2":22,"y":14.7,"y2":14.7},{"x":20,"x2":20,"y":14.7,"y2":0},{"x":22,"x2":22,"y":14.7,"y2":13.7},{"x":21,"x2":23,"y":13.7,"y2":13.7},{"x":21,"x2":21,"y":13.7,"y2":0},{"x":23,"x2":23,"y":13.7,"y2":13},{"x":22,"x2":24,"y":13,"y2":13},{"x":22,"x2":22,"y":13,"y2":0},{"x":24,"x2":24,"y":13,"y2":12.3},{"x":23,"x2":24.5,"y":12.3,"y2":12.3},{"x":23,"x2":23,"y":12.3,"y2":0},{"x":24.5,"x2":24.5,"y":12.3,"y2":12},{"x":24,"x2":26,"y":12,"y2":12},{"x":24,"x2":24,"y":12,"y2":0},{"x":26,"x2":26,"y":12,"y2":11.3},{"x":25,"x2":26.5,"y":11.3,"y2":11.3},{"x":25,"x2":25,"y":11.3,"y2":0},{"x":26.5,"x2":26.5,"y":11.3,"y2":10.7},{"x":26,"x2":27,"y":10.7,"y2":10.7},{"x":26,"x2":26,"y":10.7,"y2":0},{"x":27,"x2":27,"y":10.7,"y2":0}
],
"names":[{"x":1,"y":-47,"t":"Lu1050A"},{"x":2,"y":-47,"t":"Lu1321A"},{"x":3,"y":-47,"t":"Lu1518A"},{"x":4,"y":-47,"t":"Lu1790A"},{"x":5,"y":-47,"t":"Lu1031A"},{"x":6,"y":-47,"t":"Lu113A"},{"x":7,"y":-47,"t":"Lu1479A"},{"x":8,"y":-47,"t":"Lu1377A"},{"x":9,"y":-47,"t":"Lu1182A"},{"x":10,"y":-47,"t":"Lu2499A"},{"x":11,"y":-47,"t":"Lu106A"},{"x":12,"y":-47,"t":"Lu587A"},{"x":13,"y":-47,"t":"Lu346A"},{"x":14,"y":-47,"t":"Lu1606A"},{"x":15,"y":-47,"t":"Lu2029A"},{"x":16,"y":-47,"t":"Lu2502A"},{"x":17,"y":-47,"t":"Lu1450A"},{"x":18,"y":-47,"t":"Lu1848A"},{"x":19,"y":-47,"t":"Lu2368A"},{"x":20,"y":-47,"t":"Lu1682A"},{"x":21,"y":-47,"t":"Lu1068A"},{"x":22,"y":-47,"t":"Lu1821A"},{"x":23,"y":-47,"t":"Lu1659A"},{"x":24,"y":-47,"t":"Lu1405A"},{"x":25,"y":-47,"t":"Lu1942A"},{"x":26,"y":-47,"t":"Lu1943A"},{"x":27,"y":-47,"t":"Lu2040A"}],
"scale":[{"l":"-3.0","v":-3},{"l":"-2.7","v":-2.7},{"l":"-2.5","v":-2.5},{"l":"-2.2","v":-2.2},{"l":"-2.0","v":-2},{"l":"-1.7","v":-1.7},{"l":"-1.4","v":-1.4},{"l":"-1.2","v":-1.2},{"l":"-0.9","v":-0.9},{"l":"-0.7","v":-0.7},{"l":"-0.4","v":-0.4},{"l":"-0.1","v":-0.1},{"l":"0.1","v":0.1},{"l":"0.4","v":0.4},{"l":"0.7","v":0.7},{"l":"0.9","v":0.9},{"l":"1.2","v":1.2},{"l":"1.4","v":1.4},{"l":"1.7","v":1.7},{"l":"2.0","v":2},{"l":"2.2","v":2.2},{"l":"2.5","v":2.5},{"l":"2.7","v":2.7},{"l":"3.0","v":3}],
"muts":[{"g":"EGFR","c":6},{"g":"EGFR","c":14},{"g":"EGFR","c":21},{"g":"EGFR","c":25},{"g":"KRAS","c":17},{"g":"KRAS","c":18},{"g":"KRAS","c":20},{"g":"TP53","c":20},{"g":"TP53","c":22},{"g":"TP53","c":23},{"g":"PTPN13","c":4},{"g":"PTPN13","c":26},{"g":"RPS6KB2","c":18},{"g":"RPS6KB2","c":19},{"g":"RPS6KB2","c":21},{"g":"SP1","c":13},{"g":"SP1","c":19},{"g":"SPTAN1","c":19},{"g":"SPTAN1","c":26},{"g":"ATXN2","c":11},{"g":"ATXN2","c":19},{"g":"DHX9","c":19},{"g":"DHX9","c":23},{"g":"MYOF","c":2},{"g":"MYOF","c":19}],
"km":[{"x":0,"y":1,"s":"Cluster3"},{"x":1.4,"y":0.9,"s":"Cluster3"},{"x":3,"y":0.8,"s":"Cluster3"},{"x":3.3,"y":0.7,"s":"Cluster3"},{"x":3.6,"y":0.6,"s":"Cluster3"},{"x":4.1,"y":0.5,"s":"Cluster3"},{"x":6,"y":0.375,"s":"Cluster3"},{"x":8.25,"y":0.375,"s":"Cluster3"},{"x":0,"y":1,"s":"Cluster12"},{"x":5.7,"y":0.917,"s":"Cluster12"},{"x":12,"y":0.917,"s":"Cluster12"}],
"cens":[{"x":0.4,"y":1,"s":"Cluster12"},{"x":5.03,"y":1,"s":"Cluster12"},{"x":5.08,"y":1,"s":"Cluster12"},{"x":5.13,"y":1,"s":"Cluster12"},{"x":5.8,"y":0.917,"s":"Cluster12"},{"x":6.2,"y":0.917,"s":"Cluster12"},{"x":6.45,"y":0.917,"s":"Cluster12"},{"x":6.75,"y":0.917,"s":"Cluster12"},{"x":7.55,"y":0.917,"s":"Cluster12"},{"x":8,"y":0.917,"s":"Cluster12"},{"x":8.05,"y":0.917,"s":"Cluster12"},{"x":8.25,"y":0.917,"s":"Cluster12"},{"x":8.6,"y":0.917,"s":"Cluster12"},{"x":12,"y":0.917,"s":"Cluster12"},{"x":0.8,"y":1,"s":"Cluster3"},{"x":5.3,"y":0.5,"s":"Cluster3"},{"x":6.45,"y":0.375,"s":"Cluster3"},{"x":8,"y":0.375,"s":"Cluster3"},{"x":8.05,"y":0.375,"s":"Cluster3"}],
"volcano":[{"x":-0.285,"y":3.17},{"x":-0.23,"y":2.43},{"x":-0.21,"y":2.05},{"x":-0.2,"y":2},{"x":-0.24,"y":1.38},{"x":-0.225,"y":1.7},{"x":-0.215,"y":1.7},{"x":-0.218,"y":1.6},{"x":-0.2,"y":1.75},{"x":-0.205,"y":1.45},{"x":-0.19,"y":1.7},{"x":-0.185,"y":1.6},{"x":-0.18,"y":1.7},{"x":-0.175,"y":1.65},{"x":-0.195,"y":1.4},{"x":-0.185,"y":1.45},{"x":-0.175,"y":1.4},{"x":-0.17,"y":1.4},{"x":-0.16,"y":1.25},{"x":-0.155,"y":1.3},{"x":-0.16,"y":1},{"x":-0.15,"y":1.2},{"x":-0.145,"y":1.1},{"x":-0.155,"y":0.95},{"x":-0.15,"y":0.9},{"x":-0.14,"y":1.05},{"x":-0.14,"y":0.8},{"x":-0.13,"y":0.75},{"x":-0.12,"y":0.78},{"x":-0.115,"y":0.8},{"x":-0.105,"y":0.65},{"x":-0.1,"y":0.6},{"x":-0.105,"y":0.45},{"x":-0.095,"y":0.6},{"x":-0.09,"y":0.55},{"x":-0.085,"y":0.45},{"x":-0.08,"y":0.4},{"x":-0.075,"y":0.4},{"x":-0.08,"y":0.3},{"x":-0.07,"y":0.35},{"x":-0.06,"y":0.28},{"x":-0.05,"y":0.22},{"x":-0.045,"y":0.2},{"x":-0.04,"y":0.15},{"x":-0.03,"y":0.1},{"x":-0.025,"y":0.08},{"x":-0.02,"y":0.05},{"x":-0.015,"y":0.03},{"x":-0.01,"y":0.02},{"x":-0.005,"y":0.01},{"x":0,"y":0},{"x":-0.082,"y":0.35},{"x":-0.11,"y":0.55},{"x":-0.095,"y":0.5},{"x":-0.035,"y":0.12},{"x":0.005,"y":0.01},{"x":0.01,"y":0.02},{"x":0.015,"y":0.04},{"x":0.02,"y":0.05},{"x":0.025,"y":0.08},{"x":0.03,"y":0.1},{"x":0.04,"y":0.15},{"x":0.045,"y":0.2},{"x":0.05,"y":0.22},{"x":0.055,"y":0.25},{"x":0.06,"y":0.3},{"x":0.07,"y":0.35},{"x":0.075,"y":0.38},{"x":0.08,"y":0.4},{"x":0.085,"y":0.5},{"x":0.09,"y":0.52},{"x":0.095,"y":0.55},{"x":0.1,"y":0.58},{"x":0.1,"y":0.5},{"x":0.105,"y":0.6},{"x":0.108,"y":0.65},{"x":0.11,"y":0.62},{"x":0.115,"y":0.7},{"x":0.12,"y":0.75},{"x":0.125,"y":0.8},{"x":0.13,"y":0.85},{"x":0.13,"y":0.9},{"x":0.135,"y":0.95},{"x":0.135,"y":1},{"x":0.14,"y":0.88},{"x":0.145,"y":0.78},{"x":0.15,"y":0.9},{"x":0.155,"y":1},{"x":0.155,"y":1.2},{"x":0.16,"y":1.3},{"x":0.16,"y":1.1},{"x":0.165,"y":1.35},{"x":0.165,"y":1.25},{"x":0.17,"y":1.05},{"x":0.17,"y":1.2},{"x":0.175,"y":1},{"x":0.175,"y":1.3},{"x":0.178,"y":1.5},{"x":0.18,"y":1.55},{"x":0.185,"y":1.6},{"x":0.19,"y":1.25},{"x":0.19,"y":1.15},{"x":0.195,"y":1.45},{"x":0.2,"y":1.9},{"x":0.2,"y":2.05},{"x":0.205,"y":1.85},{"x":0.21,"y":2.1},{"x":0.21,"y":1.95},{"x":0.215,"y":2.35},{"x":0.215,"y":2.2},{"x":0.215,"y":1.4},{"x":0.22,"y":2.3},{"x":0.225,"y":2.15},{"x":0.23,"y":2.4},{"x":0.23,"y":2.65},{"x":0.235,"y":2.3},{"x":0.24,"y":2.75},{"x":0.245,"y":2.55},{"x":0.245,"y":2.95},{"x":0.25,"y":2.7},{"x":0.25,"y":2.5},{"x":0.255,"y":3.1},{"x":0.255,"y":3.3},{"x":0.26,"y":2.5},{"x":0.26,"y":3},{"x":0.26,"y":3.2},{"x":0.265,"y":2},{"x":0.265,"y":3.4},{"x":0.265,"y":3.55},{"x":0.27,"y":3.15},{"x":0.27,"y":3.7},{"x":0.27,"y":3.85},{"x":0.272,"y":3.6},{"x":0.275,"y":3.3},{"x":0.275,"y":3.8},{"x":0.278,"y":2.95},{"x":0.28,"y":3.5},{"x":0.28,"y":3.9},{"x":0.28,"y":3.7},{"x":0.285,"y":4.1},{"x":0.285,"y":3.85},{"x":0.285,"y":4.3},{"x":0.29,"y":3.6},{"x":0.29,"y":4},{"x":0.29,"y":4.55},{"x":0.295,"y":3.35},{"x":0.295,"y":4.1},{"x":0.298,"y":3.05},{"x":0.3,"y":4.15},{"x":0.3,"y":4.4},{"x":0.3,"y":4.7},{"x":0.305,"y":4.75},{"x":0.31,"y":4.4},{"x":0.312,"y":4.6},{"x":0.312,"y":2.8},{"x":0.315,"y":5.15},{"x":0.315,"y":5.28},{"x":0.318,"y":4.2},{"x":0.32,"y":4.8},{"x":0.32,"y":4.5},{"x":0.32,"y":4.15},{"x":0.322,"y":2.17},{"x":0.325,"y":6.23},{"x":0.36,"y":5.6},{"x":0.362,"y":4.2},{"x":0.37,"y":4.07},{"x":0.39,"y":4.38},{"x":0.405,"y":5.3},{"x":0.31,"y":4.35},{"x":0.315,"y":4.95},{"x":0.295,"y":4.3},{"x":0.275,"y":3.45},{"x":0.268,"y":3.5},{"x":0.25,"y":3.1},{"x":0.24,"y":2.5},{"x":0.25,"y":2.95},{"x":0.235,"y":2.25},{"x":0.21,"y":1.9},{"x":0.205,"y":2},{"x":0.17,"y":1.25},{"x":0.16,"y":1.4},{"x":0.155,"y":1.05},{"x":0.13,"y":0.92},{"x":0.12,"y":0.78},{"x":0.085,"y":0.45},{"x":0.065,"y":0.32},{"x":0.035,"y":0.13}]
},
"layer":[
{"encoding":{"x":{"field":"x","type":"quantitative","scale":{"domain":[0.5,27.5],"range":[26.7,322.7],"nice":false,"zero":false},"axis":null},"y":{"field":"y","type":"quantitative","scale":{"domain":[-47,48],"range":[95,0],"nice":false,"zero":false},"axis":null}},
 "layer":[
  {"data":{"name":"tree"},"mark":{"type":"rule","color":"#3a3a3a","strokeWidth":1},"encoding":{"x2":{"field":"x2"},"y2":{"field":"y2"}}},
  {"data":{"name":"names"},"mark":{"type":"text","angle":270,"align":"left","baseline":"middle","fontSize":11,"color":"#333333"},"encoding":{"text":{"field":"t"}}},
  {"data":{"values":[{"x":-1.75,"y":36,"t":"A"}]},"mark":{"type":"text","align":"left","baseline":"alphabetic","fontSize":14,"fontWeight":"bold","color":"#000000"},"encoding":{"text":{"field":"t"}}}
 ]},
{"data":{"name":"tracks"},
 "encoding":{"x":{"field":"c","type":"ordinal","sort":null,"scale":{"range":[26.7,322.7],"paddingInner":0,"paddingOuter":0},"axis":null},"y":{"field":"t","type":"ordinal","sort":null,"scale":{"range":[99.3,119],"paddingInner":0,"paddingOuter":0},"axis":null}},
 "layer":[
  {"mark":{"type":"rect"},"encoding":{"color":{"field":"k","type":"nominal","legend":null,"scale":{"domain":["T1:ID","T1:IA","T2:AD","T2:BAC","T3:0","T3:1","T3:NA","T4:0","T4:1"],"range":["#3fe0a0","#5f86ae","#f3e6d2","#a7e36a","#5c7f98","#6a4df0","#c9a67a","#d278ea","#c8a078"]}}}},
  {"mark":{"type":"text","fontSize":4.5,"color":"#333333","baseline":"middle"},"encoding":{"text":{"field":"l"}}}
 ]},
{"data":{"name":"heat"},"mark":{"type":"rect","strokeWidth":0.4},
 "encoding":{"x":{"field":"c","type":"ordinal","sort":null,"scale":{"range":[26.7,322.7],"paddingInner":0,"paddingOuter":0},"axis":null},"y":{"field":"r","type":"ordinal","sort":null,"scale":{"range":[123.3,296.7],"paddingInner":0,"paddingOuter":0},"axis":null},"color":{"field":"v","type":"quantitative","legend":null,"scale":{"domain":[-3,-1.5,0,1.5,3],"range":["#00ff00","#005a00","#000000","#5a0000","#ff0000"],"interpolate":"rgb"}},"stroke":{"field":"v","type":"quantitative","legend":null,"scale":{"domain":[-3,-1.5,0,1.5,3],"range":["#00ff00","#005a00","#000000","#5a0000","#ff0000"],"interpolate":"rgb"}}}},
{"data":{"name":"scale"},"mark":{"type":"rect","stroke":"#ffffff","strokeWidth":0.3},
 "encoding":{"x":{"field":"l","type":"ordinal","sort":null,"scale":{"range":[26.7,322.7],"paddingInner":0,"paddingOuter":0},"axis":{"orient":"bottom","offset":-112,"title":null,"labelAngle":0,"labelFontSize":4.8,"labelColor":"#555555","ticks":false,"domain":false,"labelPadding":2,"labelOverlap":false}},"y":{"datum":"bar","type":"ordinal","scale":{"range":[302,307],"paddingInner":0,"paddingOuter":0},"axis":null},"color":{"field":"v","type":"quantitative","legend":null,"scale":{"domain":[-3,0,3],"range":["#00ff00","#000000","#ff0000"],"interpolate":"rgb"}}}},
{"data":{"name":"muts"},"mark":{"type":"rect","color":"#000000"},
 "encoding":{"x":{"field":"c","type":"ordinal","scale":{"domain":[1,2,3,4,5,6,7,8,9,10,11,12,13,14,15,16,17,18,19,20,21,22,23,24,25,26,27],"range":[26.7,322.7],"paddingInner":0,"paddingOuter":0},"axis":null},"y":{"field":"g","type":"ordinal","scale":{"domain":["EGFR","KRAS","TP53","PTPN13","RPS6KB2","SP1","SPTAN1","ATXN2","DHX9","MYOF"],"range":[323.6,418.5],"paddingInner":0,"paddingOuter":0},"axis":{"orient":"left","offset":-26.7,"title":null,"ticks":false,"domain":false,"labelFontSize":6,"labelFontWeight":"bold","labelColor":"#333333","labelAlign":"center","labelPadding":12.7}}}},
{"encoding":{"x":{"field":"x","type":"quantitative","scale":{"domain":[0,12.4],"range":[392.3,590.7],"nice":false,"zero":false},"axis":{"orient":"bottom","offset":-241.7,"values":[0,2,4,6,8,10,12],"grid":false,"domain":false,"tickColor":"#555555","tickSize":5,"labelFontSize":11,"labelColor":"#333333","labelPadding":7,"title":"Years after operation","titleFontSize":8.7,"titleFontWeight":"normal","titleColor":"#333333","titleX":477.7,"titleY":44}},"y":{"field":"y","type":"quantitative","scale":{"domain":[-0.038,1.043],"range":[177.3,17.3],"nice":false,"zero":false},"axis":{"orient":"left","offset":-392.3,"values":[0,0.2,0.4,0.6,0.8,1],"format":".1f","grid":false,"domain":false,"tickColor":"#555555","tickSize":5,"labelAngle":270,"labelAlign":"center","labelBaseline":"bottom","labelFontSize":11,"labelColor":"#333333","labelPadding":7,"title":"Survival probability","titleFontSize":12,"titleFontWeight":"normal","titleColor":"#222222","titleX":-38,"titleY":98}}},
 "layer":[
  {"data":{"values":[{"x":0,"x2":12.4,"y":-0.038,"y2":1.043}]},"mark":{"type":"rect","fillOpacity":0,"stroke":"#555555","strokeWidth":1},"encoding":{"x2":{"field":"x2"},"y2":{"field":"y2"}}},
  {"data":{"name":"km"},"transform":[{"filter":"datum.s=='Cluster12'"}],"mark":{"type":"line","interpolate":"step-after","strokeWidth":1.2,"color":"#33d24f"}},
  {"data":{"name":"km"},"transform":[{"filter":"datum.s=='Cluster3'"}],"mark":{"type":"line","interpolate":"step-after","strokeWidth":1.2,"color":"#4040f0"}},
  {"data":{"name":"cens"},"mark":{"type":"tick","orient":"vertical","size":8,"thickness":1},"encoding":{"color":{"field":"s","type":"nominal","legend":null,"scale":{"domain":["Cluster12","Cluster3"],"range":["#33d24f","#4040f0"]}}}},
  {"data":{"values":[{"x":10.6,"y":0.753,"t":"Cluster12","s":"Cluster12"},{"x":10.6,"y":0.707,"t":"Cluster3","s":"Cluster3"}]},"mark":{"type":"text","align":"left","baseline":"middle","fontSize":5.8},"encoding":{"text":{"field":"t"},"color":{"field":"s","type":"nominal","legend":null,"scale":{"domain":["Cluster12","Cluster3"],"range":["#33d24f","#4040f0"]}}}},
  {"data":{"values":[{"x":1.59,"y":0.153,"t":"Log rank p value: 0.002"}]},"mark":{"type":"text","align":"left","baseline":"middle","fontSize":5.5,"color":"#444444"},"encoding":{"text":{"field":"t"}}},
  {"data":{"values":[{"x":-3.02,"y":1.079,"t":"B"}]},"mark":{"type":"text","align":"left","baseline":"alphabetic","fontSize":14,"fontWeight":"bold","color":"#000000"},"encoding":{"text":{"field":"t"}}}
 ]},
{"encoding":{"x":{"field":"x","type":"quantitative","scale":{"domain":[-0.5,0.5],"range":[358.3,586.7],"nice":false,"zero":false},"axis":{"orient":"bottom","offset":-24.7,"values":[-0.5,-0.4,-0.3,-0.2,-0.1,0,0.1,0.2,0.3,0.4,0.5],"labelExpr":"abs(datum.value)<0.001?'0':format(datum.value,'.1f')","grid":false,"title":null,"domainColor":"#c4c4c4","tickColor":"#c4c4c4","tickSize":3,"labelFontSize":5.5,"labelFontWeight":"bold","labelColor":"#222222","labelPadding":3,"labelAngle":0}},"y":{"field":"y","type":"quantitative","scale":{"domain":[0,7],"range":[394.3,242.7],"nice":false,"zero":false},"axis":{"orient":"left","offset":-472.7,"values":[0,1,2,3,4,5,6,7],"format":"d","grid":false,"title":null,"domainColor":"#c4c4c4","tickColor":"#c4c4c4","tickSize":3,"labelFontSize":5.5,"labelFontWeight":"bold","labelColor":"#222222","labelPadding":3}}},
 "layer":[
  {"data":{"name":"volcano"},"mark":{"type":"point","shape":"square","filled":true,"size":5,"opacity":1,"color":"#19f07d"}},
  {"data":{"values":[{"x":-0.568,"y":6.43,"t":"C"}]},"mark":{"type":"text","align":"left","baseline":"alphabetic","fontSize":14,"fontWeight":"bold","color":"#000000"},"encoding":{"text":{"field":"t"}}}
 ]}
]}
